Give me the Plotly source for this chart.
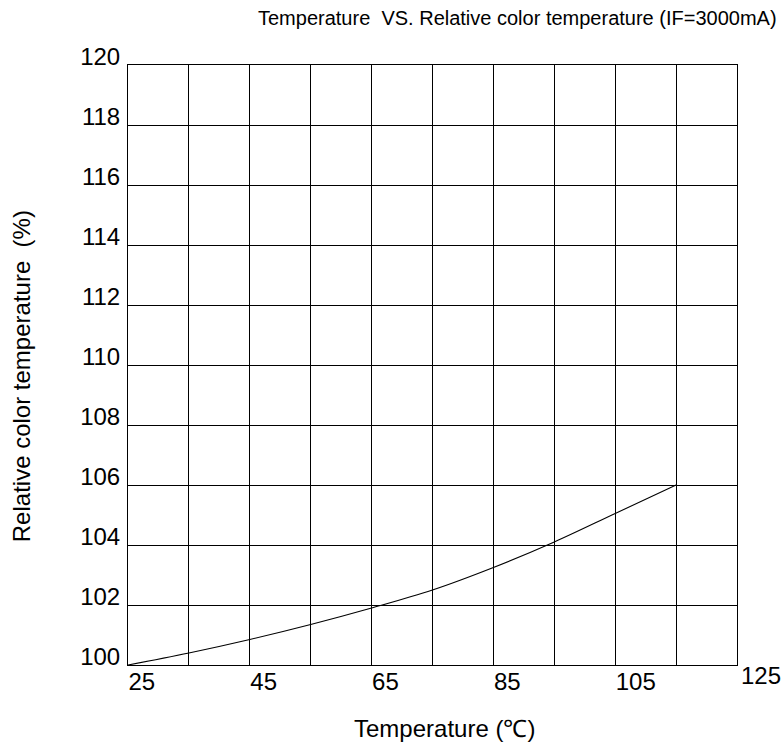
import plotly.graph_objects as go

temperature = [25, 35, 45, 55, 65, 75, 85, 95, 105, 115]
relative_cct = [100.0, 100.4, 100.85, 101.35, 101.9, 102.5, 103.25, 104.1, 105.05, 106.0]

x_ticks = [25, 45, 65, 85, 105]
x_last_tick = 125
x_grid = [25, 35, 45, 55, 65, 75, 85, 95, 105, 115, 125]
y_ticks = [100, 102, 104, 106, 108, 110, 112, 114, 116, 118, 120]

title_text = "Temperature  VS. Relative color temperature (IF=3000mA)"
x_title = "Temperature (℃)"
y_title = "Relative color temperature  (%)"

FONT = "Liberation Sans, Arial, sans-serif"

fig = go.Figure()
fig.add_trace(go.Scatter(
    x=temperature, y=relative_cct, mode="lines",
    line=dict(color="black", width=1.1, shape="spline"),
    showlegend=False, hoverinfo="x+y",
))

fig.update_layout(
    width=781, height=751,
    margin=dict(l=128, r=44, t=65, b=86),
    paper_bgcolor="white", plot_bgcolor="white",
    font=dict(family=FONT, color="black", size=24),
    xaxis=dict(range=[25, 125], tickmode="array", tickvals=x_ticks,
               ticktext=[str(v) for v in x_ticks],
               ticklabelposition="outside right",
               ticklabelstandoff=-5,
               showgrid=False,
               showline=True, linecolor="black", linewidth=1, mirror=True,
               zeroline=False, ticks="", tickfont=dict(size=24),
               minor=dict(tickmode="array", tickvals=x_grid,
                          showgrid=True, gridcolor="black", gridwidth=1)),
    yaxis=dict(range=[100, 120], tickmode="array", tickvals=y_ticks,
               ticktext=[str(v) for v in y_ticks],
               ticklabelshift=-8, ticklabelstandoff=2,
               showgrid=True, gridcolor="black", gridwidth=1,
               showline=True, linecolor="black", linewidth=1, mirror=True,
               zeroline=False, ticks="", tickfont=dict(size=24)),
)

fig.add_annotation(x=0.640, xref="paper", y=1.078, yref="paper",
                   text=title_text, showarrow=False, xanchor="center", yanchor="middle",
                   font=dict(size=20, family=FONT, color="black"))
fig.add_annotation(x=x_last_tick, xref="x", y=0, yref="paper",
                   text=str(x_last_tick), showarrow=False,
                   xanchor="left", yanchor="top", xshift=2, yshift=5,
                   font=dict(size=24, family=FONT, color="black"))
fig.add_annotation(x=0.519, xref="paper", y=-0.105, yref="paper",
                   text=x_title, showarrow=False, xanchor="center", yanchor="middle",
                   font=dict(size=24, family=FONT, color="black"))
fig.add_annotation(x=-0.175, xref="paper", y=0.482, yref="paper",
                   text=y_title, showarrow=False, textangle=-90,
                   xanchor="center", yanchor="middle",
                   font=dict(size=24, family=FONT, color="black"))

fig.write_html("out.html", config={"displayModeBar": False},
               post_script="document.body.style.margin='0';")
